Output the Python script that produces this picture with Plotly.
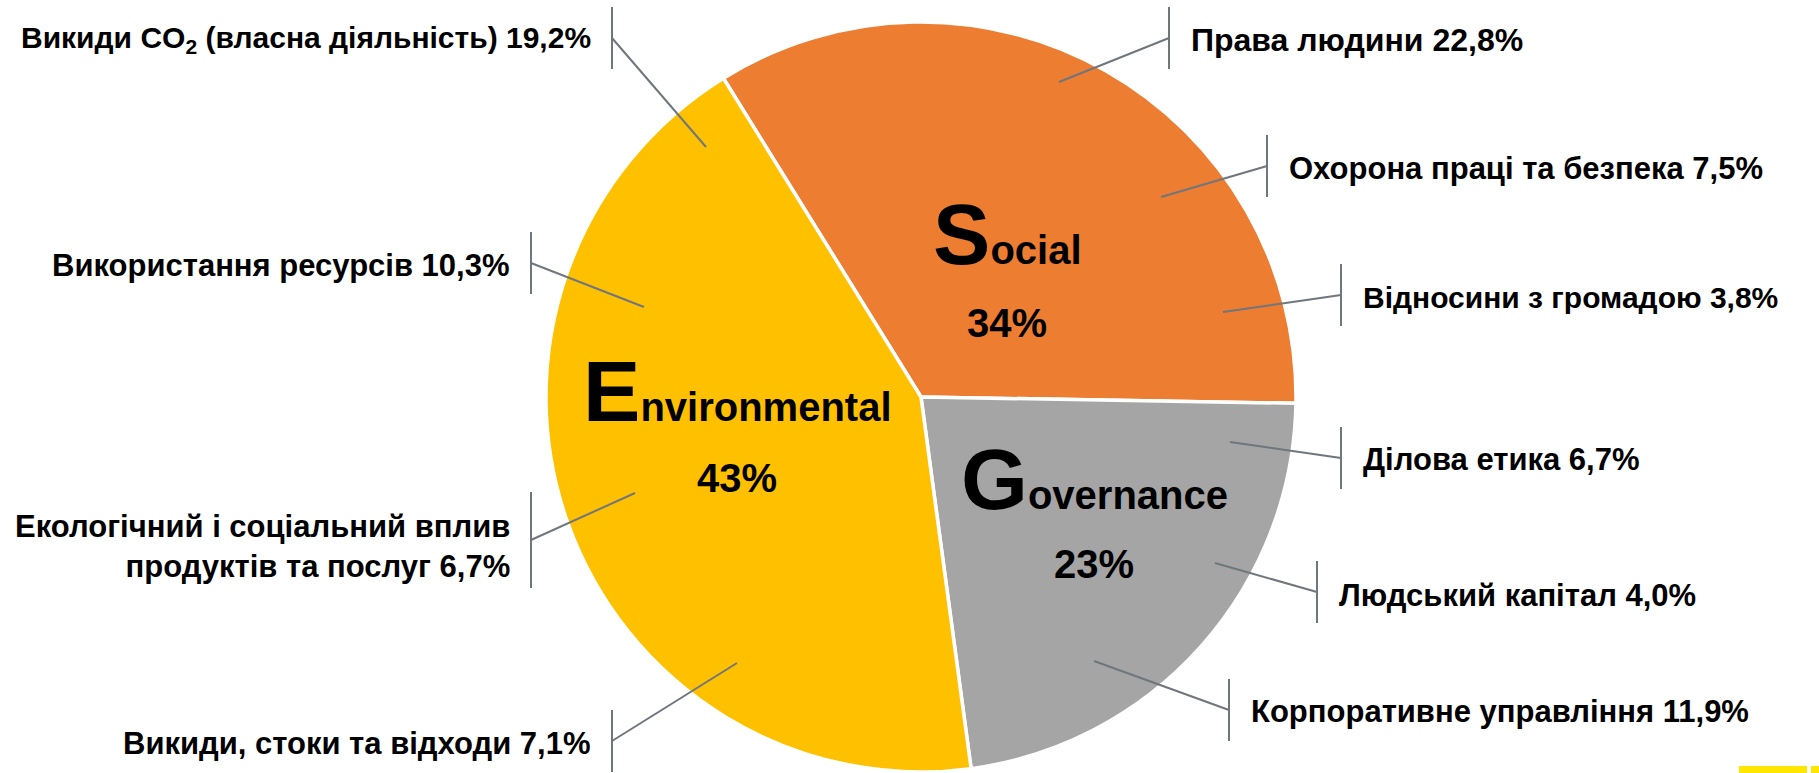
import plotly.graph_objects as go

# ---------------- data ----------------
categories = ["Social", "Governance", "Environmental"]
category_colors = ["#ED7D31", "#A5A5A5", "#FFC000"]

sub_labels = [
    "Права людини",
    "Охорона праці та безпека",
    "Відносини з громадою",
    "Ділова етика",
    "Людський капітал",
    "Корпоративне управління",
    "Викиди, стоки та відходи",
    "Екологічний і соціальний вплив<br>продуктів та послуг",
    "Використання ресурсів",
    "Викиди CO<sub>2</sub> (власна діяльність)",
]
sub_values = [22.8, 7.5, 3.8, 6.7, 4.0, 11.9, 7.1, 6.7, 10.3, 19.2]
sub_groups = ["Social"] * 3 + ["Governance"] * 3 + ["Environmental"] * 4

category_values = [round(sum(v for v, g in zip(sub_values, sub_groups) if g == c), 1)
                   for c in categories]

# ---------------- layout constants ----------------
W, H = 1819, 773
CX, CY, R = 921, 397, 375          # pie centre / radius in pixels
ROTATION = -31.8
FONT = "Liberation Sans, Arial, sans-serif"
LINE_COLOR = "#6F767D"


def xp(px):
    return px / W


def yp(py):
    return 1 - py / H


# callout geometry (pixels): side, bar x, bar centre y, bar half length, line end x, line end y
callouts = [
    ("right", 1169, 38, 31, 1059, 82),
    ("right", 1267, 166, 31, 1161, 197),
    ("right", 1341, 295, 31, 1223, 312),
    ("right", 1341, 458, 31, 1230, 442),
    ("right", 1317, 592, 31, 1215, 563),
    ("right", 1229, 710, 31, 1094, 661),
    ("left", 612, 741, 31, 737, 663),
    ("left", 531, 540, 48, 635, 493),
    ("left", 531, 263, 31, 644, 307),
    ("left", 612, 38, 31, 706, 147),
]
label_dy = [2, 2, 2, 1, 3, 1, 2, 6, 2, 1]
label_sizes = [32, 31, 30, 31, 31, 31, 31, 31, 31, 30]

# main labels: centre x, name centre y, percent centre y
main_pos = {
    "Social": (1007, 234, 323),
    "Governance": (1094, 479, 564),
    "Environmental": (737, 391, 478),
}

fig = go.Figure()
fig.add_trace(go.Pie(
    labels=categories,
    values=category_values,
    marker=dict(colors=category_colors, line=dict(color="white", width=3.5)),
    sort=False,
    direction="clockwise",
    rotation=ROTATION,
    textinfo="none",
    hoverinfo="none",
    showlegend=False,
    domain=dict(x=[xp(CX - R), xp(CX + R)], y=[yp(CY + R), yp(CY - R)]),
))

shapes = []
annotations = []
for lab, val, (side, bx, bcy, bh, ex, ey), dy, fs in zip(sub_labels, sub_values, callouts,
                                                         label_dy, label_sizes):
    shapes.append(dict(type="line", xref="paper", yref="paper",
                       x0=xp(bx), x1=xp(bx), y0=yp(bcy - bh), y1=yp(bcy + bh),
                       line=dict(color=LINE_COLOR, width=2)))
    shapes.append(dict(type="line", xref="paper", yref="paper",
                       x0=xp(bx), x1=xp(ex), y0=yp(bcy), y1=yp(ey),
                       line=dict(color=LINE_COLOR, width=2)))
    txt = f"{lab} {val:.1f}%".replace(".", ",")
    if side == "right":
        annotations.append(dict(x=xp(bx + 20), y=yp(bcy + dy), xref="paper", yref="paper",
                                xanchor="left", yanchor="middle", align="left",
                                text=txt, showarrow=False,
                                font=dict(family=FONT, size=fs, color="black", weight="bold")))
    else:
        annotations.append(dict(x=xp(bx - 19), y=yp(bcy + dy), xref="paper", yref="paper",
                                xanchor="right", yanchor="middle", align="right",
                                text=txt, showarrow=False,
                                font=dict(family=FONT, size=fs, color="black", weight="bold")))

for cat, val in zip(categories, category_values):
    mx, ny, py = main_pos[cat]
    annotations.append(dict(
        x=xp(mx), y=yp(ny), xref="paper", yref="paper", xanchor="center", yanchor="middle",
        text=f"<span style='font-size:86px'>{cat[0]}</span>{cat[1:]}", showarrow=False,
        font=dict(family=FONT, size=40, color="black", weight="bold")))
    annotations.append(dict(
        x=xp(mx), y=yp(py), xref="paper", yref="paper", xanchor="center", yanchor="middle",
        text=f"{round(val):d}%", showarrow=False,
        font=dict(family=FONT, size=40, color="black", weight="bold")))

# small yellow footer mark in the bottom-right corner
shapes.append(dict(type="rect", xref="paper", yref="paper", x0=xp(1739), x1=xp(1807),
                   y0=yp(773), y1=yp(766), fillcolor="#FFE600", line=dict(width=0)))
shapes.append(dict(type="rect", xref="paper", yref="paper", x0=xp(1811), x1=xp(1819),
                   y0=yp(773), y1=yp(766), fillcolor="#FFE600", line=dict(width=0)))

fig.update_layout(
    width=W, height=H,
    margin=dict(l=0, r=0, t=0, b=0),
    paper_bgcolor="white", plot_bgcolor="white",
    shapes=shapes, annotations=annotations,
)

fig.write_html("out.html",
               config={"displayModeBar": False},
               post_script="document.body.style.margin='0';document.body.style.overflow='hidden';")
